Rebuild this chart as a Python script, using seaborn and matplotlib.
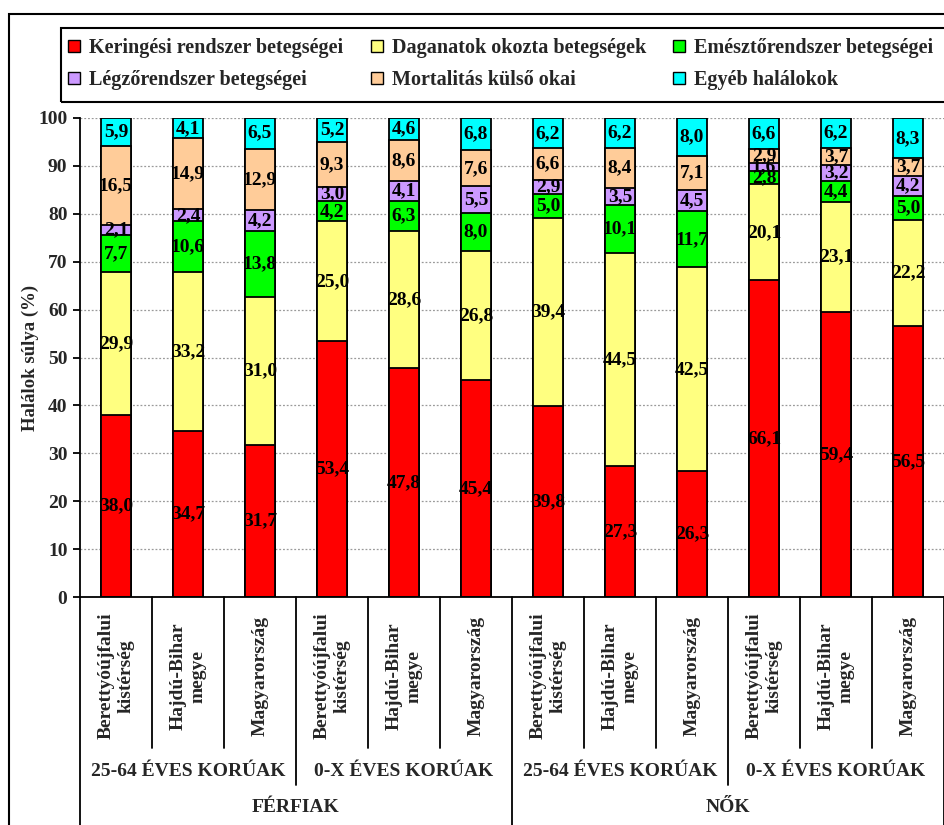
import matplotlib
matplotlib.use("Agg")
import matplotlib.pyplot as plt
import matplotlib.transforms as mtransforms
from matplotlib.patches import Rectangle, Patch
from matplotlib.lines import Line2D
import seaborn as sns
import pandas as pd
import numpy as np

# ---------------- data ----------------
regions = ["Berettyóújfalui\nkistérség", "Hajdú-Bihar\nmegye", "Magyarország"]
age_groups = ["25-64 ÉVES KORÚAK", "0-X ÉVES KORÚAK"]
sexes = ["FÉRFIAK", "NŐK"]

series_names = ["Keringési rendszer betegségei", "Daganatok okozta betegségek",
                "Emésztőrendszer betegségei", "Légzőrendszer betegségei",
                "Mortalitás külső okai", "Egyéb halálokok"]
keringesi = [38.0, 34.7, 31.7, 53.4, 47.8, 45.4, 39.8, 27.3, 26.3, 66.1, 59.4, 56.5]
daganatok = [29.9, 33.2, 31.0, 25.0, 28.6, 26.8, 39.4, 44.5, 42.5, 20.1, 23.1, 22.2]
emeszto = [7.7, 10.6, 13.8, 4.2, 6.3, 8.0, 5.0, 10.1, 11.7, 2.8, 4.4, 5.0]
legzo = [2.1, 2.4, 4.2, 3.0, 4.1, 5.5, 2.9, 3.5, 4.5, 1.6, 3.2, 4.2]
kulso = [16.5, 14.9, 12.9, 9.3, 8.6, 7.6, 6.6, 8.4, 7.1, 2.9, 3.7, 3.7]
egyeb = [5.9, 4.1, 6.5, 5.2, 4.6, 6.8, 6.2, 6.2, 8.0, 6.6, 6.2, 8.3]
colors = ["#FF0000", "#FFFF80", "#00FF00", "#CC99FF", "#FFCC99", "#00FFFF"]
y_ticks = [0, 10, 20, 30, 40, 50, 60, 70, 80, 90, 100]
y_label = "Halálok súlya (%)"

# ---------------- setup ----------------
sns.set_theme(style="white")
plt.rcParams["font.family"] = ["Liberation Serif", "DejaVu Serif"]
plt.rcParams["font.weight"] = "bold"

W, H = 945, 825
fig = plt.figure(figsize=(W / 100, H / 100), dpi=100)


def fx(px):
    return px / W


def fy(py):
    return 1 - py / H


ax = fig.add_axes([fx(80), fy(597), fx(944) - fx(80), fy(118) - fy(597)])

keys, tick_labels = [], []
for s in sexes:
    for a in age_groups:
        for r in regions:
            keys.append(f"{s}|{a}|{r}")
            tick_labels.append(r)

values = np.array([keringesi, daganatok, emeszto, legzo, kulso, egyeb])
cum = values.cumsum(axis=0)

df = pd.DataFrame({"key": keys})
for i in reversed(range(len(series_names))):
    df["h"] = cum[i]
    sns.barplot(data=df, x="key", y="h", order=keys, color=colors[i],
                saturation=1, width=0.42, edgecolor="black", linewidth=1.3,
                errorbar=None, ax=ax)

# value labels
for i in range(values.shape[0]):
    for j in range(values.shape[1]):
        v = values[i, j]
        yc = cum[i, j] - v / 2
        ax.text(j, yc, f"{v:.1f}".replace(".", ","), ha="center", va="center",
                fontsize=14, fontweight="bold", color="black")

ax.set_ylim(0, 100)
ax.set_xlim(-0.5, len(keys) - 0.5)
ax.set_yticks(y_ticks)
ax.set_yticklabels([str(t) for t in y_ticks], fontsize=14, fontweight="bold")
ax.tick_params(axis="y", direction="out", length=5, width=1.3, color="black",
               pad=4, left=True)
ax.set_xticks(range(len(keys)))
ax.set_xticklabels(tick_labels, rotation=90, ha="center", va="center",
                   multialignment="center", fontsize=14, fontweight="bold")
ax.tick_params(axis="x", length=0, pad=57)
ax.set_xlabel("")
ax.set_ylabel(y_label, fontsize=13.5, fontweight="bold")
ax.yaxis.set_label_coords((39 - 80) / 864, 0.5)

ax.yaxis.grid(True, linestyle=(0, (1.5, 1.5)), color="#9A9A9A", linewidth=0.9)
ax.xaxis.grid(False)
ax.set_axisbelow(True)
for side in ["top", "right"]:
    ax.spines[side].set_visible(False)
for side in ["left", "bottom"]:
    ax.spines[side].set_color("black")
    ax.spines[side].set_linewidth(1.3)

# category separators and group labels
blend = mtransforms.blended_transform_factory(ax.transData, fig.transFigure)
for k in range(len(keys) + 1):
    if k % 6 == 0:
        y_end = 840
    elif k % 3 == 0:
        y_end = 785
    else:
        y_end = 748
    fig.add_artist(Line2D([k - 0.5, k - 0.5], [fy(597), fy(y_end)],
                          transform=blend, color="black", lw=1.3))

for g in range(4):
    fig.text(g * 3 + 1, fy(772), age_groups[g % 2], transform=blend,
             ha="center", va="center", fontsize=14, fontweight="bold")
for s in range(2):
    fig.text(s * 6 + 2.5, fy(808), sexes[s], transform=blend,
             ha="center", va="center", fontsize=14, fontweight="bold")

# legend
handles = [Patch(facecolor=c, edgecolor="black", linewidth=1.0) for c in colors]
order = [0, 3, 1, 4, 2, 5]
fig.legend([handles[i] for i in order], [series_names[i] for i in order],
           ncol=3, loc="upper left", bbox_to_anchor=(fx(62), fy(32)),
           frameon=False, fontsize=14.5, handlelength=0.6, handleheight=0.6,
           handletextpad=0.45, columnspacing=1.35, labelspacing=0.6,
           borderpad=0.3, borderaxespad=0)
fig.add_artist(Rectangle((fx(61), fy(102)), fx(1000) - fx(61), fy(28) - fy(102),
                         transform=fig.transFigure, fill=False,
                         edgecolor="black", lw=1.5))
# outer chart frame
fig.add_artist(Rectangle((fx(9), fy(840)), fx(1000) - fx(9), fy(14) - fy(840),
                         transform=fig.transFigure, fill=False,
                         edgecolor="black", lw=1.5))

fig.savefig("out.png", dpi=100, facecolor="white")
